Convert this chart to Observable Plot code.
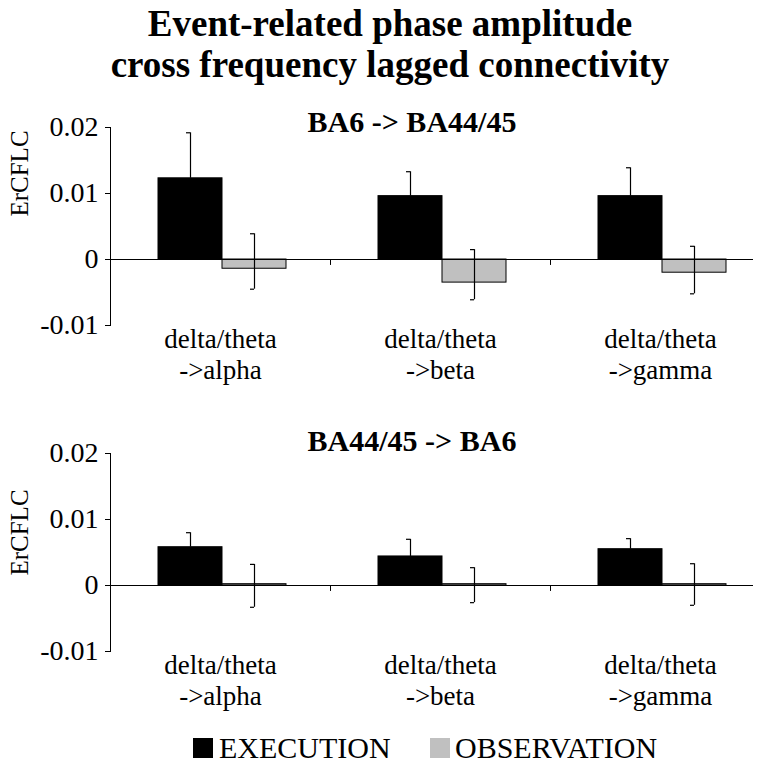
<!DOCTYPE html>
<html><head><meta charset="utf-8">
<script src="https://cdn.jsdelivr.net/npm/d3@7"></script>
<script src="https://cdn.jsdelivr.net/npm/@observablehq/plot@0.6"></script>
<style>
body{margin:0;background:#fff;}
#wrap{position:relative;width:760px;height:766px;overflow:hidden;font-family:"Liberation Serif","Times New Roman",serif;color:#000;background:#fff;}
#title{position:absolute;left:30px;top:3px;width:720px;text-align:center;font-weight:bold;font-size:37px;line-height:41px;}
.panel{position:absolute;left:0;width:760px;height:300px;}
.sw{position:absolute;width:20px;height:20px;top:738px;}
.lt{position:absolute;top:733px;font-size:30px;line-height:30px;white-space:nowrap;}
</style></head><body>
<div id="wrap">
  <div id="title">Event-related phase amplitude<br>cross frequency lagged connectivity</div>
  <div id="p1" class="panel" style="top:100px"></div>
  <div id="p2" class="panel" style="top:420px"></div>
  <div id="legend"></div>
</div>
<script>
// categories and labels
const groups = ["alpha", "beta", "gamma"];
const labelLine1 = ["delta/theta", "delta/theta", "delta/theta"];
const labelLine2 = ["->alpha", "->beta", "->gamma"];
const series = ["EXECUTION", "OBSERVATION"];
const seriesColors = ["#000000", "#c0c0c0"];
const yLabel = "ErCFLC";

// panel 1: BA6 -> BA44/45
const p1Title = "BA6 -> BA44/45";
const p1Exec = [0.0123, 0.0096, 0.0096];
const p1ExecErrHi = [0.0192, 0.0133, 0.0139];
const p1Obs = [-0.0014, -0.0035, -0.0020];
const p1ObsErrLo = [-0.0045, -0.0061, -0.0052];
const p1ObsErrHi = [0.0039, 0.0015, 0.0020];

// panel 2: BA44/45 -> BA6
const p2Title = "BA44/45 -> BA6";
const p2Exec = [0.0058, 0.0044, 0.0055];
const p2ExecErrHi = [0.0080, 0.0070, 0.0071];
const p2Obs = [0.0002, 0.0002, 0.0002];
const p2ObsErrLo = [-0.0033, -0.0026, -0.0030];
const p2ObsErrHi = [0.0032, 0.0027, 0.0033];

function panel(o) {
  const rows = groups.map((g, i) => ({
    g, exec: o.exec[i], execHi: o.execHi[i], obs: o.obs[i],
    obsLo: o.obsLo[i], obsHi: o.obsHi[i], label: labelLine1[i] + "\n" + labelLine2[i]
  }));
  return Plot.plot({
    width: 760, height: 300,
    marginLeft: 110, marginRight: 7, marginTop: o.marginTop, marginBottom: o.marginBottom,
    style: {fontFamily: '"Liberation Serif","Times New Roman",serif', fontSize: "28px", color: "#000", background: "transparent", overflow: "visible"},
    x: {domain: groups, range: [110, 770], padding: 0, axis: null},
    y: {domain: [-0.01, 0.02], ticks: 3, tickSize: 5, tickPadding: 7,
        tickFormat: d => String(Math.round(d * 100) / 100), line: true, label: null},
    marks: [
      Plot.barY(rows, {x: "g", y: "exec", fill: seriesColors[0], stroke: "#000", strokeWidth: 1, insetLeft: 48, insetRight: 108}),
      Plot.barY(rows, {x: "g", y: "obs", fill: seriesColors[1], stroke: "#000", strokeWidth: 1, insetLeft: 112, insetRight: 44}),
      Plot.ruleY([0], {strokeWidth: 1.2}),
      Plot.ruleX(rows.slice(1), {x: "g", dx: -110, y1: 0, y2: -0.0009}),
      Plot.ruleX(rows, {x: "g", dx: -30, y1: "exec", y2: "execHi", strokeWidth: 1.2}),
      Plot.tickY(rows, {x: "g", y: "execHi", insetLeft: 76, insetRight: 140, strokeWidth: 1.2}),
      Plot.ruleX(rows, {x: "g", dx: 34, y1: "obsLo", y2: "obsHi", strokeWidth: 1.2}),
      Plot.tickY(rows, {x: "g", y: "obsLo", insetLeft: 140, insetRight: 76, strokeWidth: 1.2}),
      Plot.tickY(rows, {x: "g", y: "obsHi", insetLeft: 140, insetRight: 76, strokeWidth: 1.2}),
      Plot.text(rows, {x: "g", text: "label", frameAnchor: "bottom", dy: 53, lineAnchor: "bottom", lineHeight: 1.12, fontSize: 27}),
      Plot.text([o.title], {frameAnchor: "top", dx: -20, dy: o.titleDy, lineAnchor: "bottom", fontWeight: "bold", fontSize: 30}),
      Plot.text([yLabel], {frameAnchor: "top-left", dx: -91, dy: o.ylabelDy, rotate: -90, fontSize: 25, textAnchor: "middle", lineAnchor: "middle"})
    ]
  });
}

document.getElementById("p1").append(panel({
  title: p1Title, exec: p1Exec, execHi: p1ExecErrHi, obs: p1Obs, obsLo: p1ObsErrLo, obsHi: p1ObsErrHi,
  marginTop: 27, marginBottom: 75, titleDy: 4, ylabelDy: 46
}));
document.getElementById("p2").append(panel({
  title: p2Title, exec: p2Exec, execHi: p2ExecErrHi, obs: p2Obs, obsLo: p2ObsErrLo, obsHi: p2ObsErrHi,
  marginTop: 33, marginBottom: 69, titleDy: -3, ylabelDy: 79
}));

// legend
const legend = document.getElementById("legend");
const swLeft = [193, 430], txtLeft = [219, 455];
series.forEach((s, i) => {
  const sw = document.createElement("div");
  sw.className = "sw"; sw.style.left = swLeft[i] + "px"; sw.style.background = seriesColors[i];
  const t = document.createElement("div");
  t.className = "lt"; t.style.left = txtLeft[i] + "px"; t.textContent = s;
  legend.append(sw, t);
});
</script>
</body></html>
